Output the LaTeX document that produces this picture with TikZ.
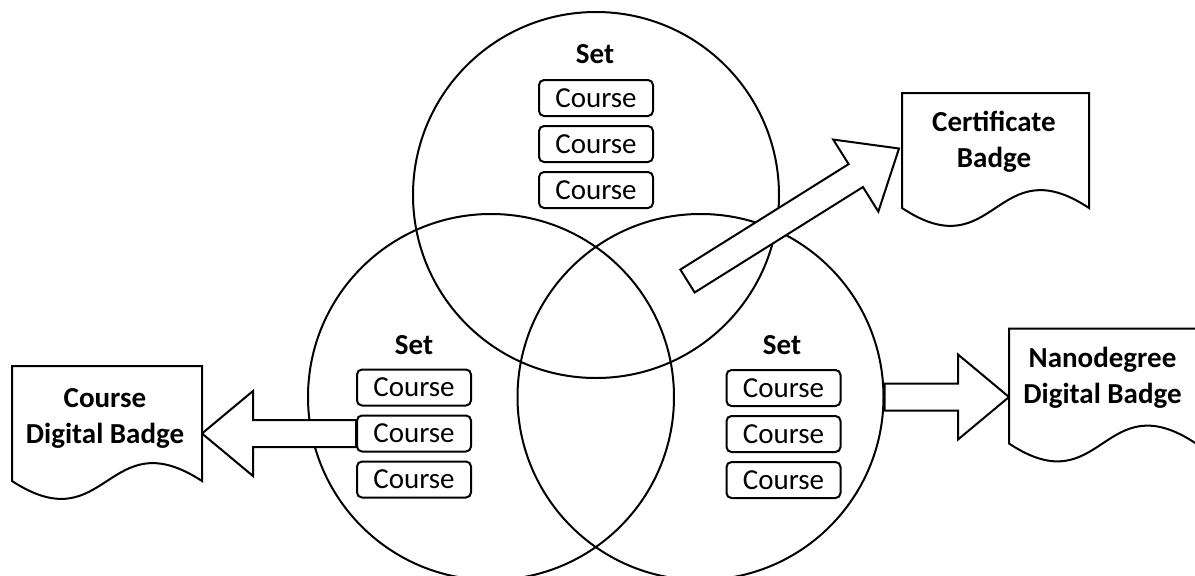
\documentclass[tikz,border=0pt]{standalone}
\usepackage{fontspec}
\setmainfont{Carlito}
\usetikzlibrary{calc}

\tikzset{
  setcircle/.style={circle, draw, line width=2pt, minimum size=366pt, inner sep=0pt},
  setlabel/.style={font=\fontsize{29}{36}\selectfont\bfseries, inner sep=0pt, anchor=base},
  coursebox/.style={draw, fill=white, line width=2pt, rounded corners=5pt,
    minimum width=114pt, minimum height=36pt, inner sep=0pt,
    font=\fontsize{29}{36}\selectfont},
  docframe/.style={minimum height=115pt, inner sep=0pt, outer sep=0pt},
  doctext/.style={align=center, inner sep=0pt, font=\fontsize{29}{36}\selectfont\bfseries},
  docline/.style={draw, fill=white, line width=2pt, line join=miter},
  arrowline/.style={draw, fill=white, line width=2pt, line join=miter},
}

% document outline with a wavy bottom edge around a frame node
\newcommand\docoutline[1]{%
  \path[docline] (#1.south west) -- (#1.north west) -- (#1.north east) -- (#1.south east)
    .. controls ($(#1.south)+(0,-62)$) and ($(#1.south)+(0,62)$) .. (#1.south west) -- cycle;}

% hollow block arrow from tail #1 to tip #2
\newcommand\blockarrow[2]{%
  \coordinate (ba-base) at ($(#2)!51pt!(#1)$);
  \path[arrowline] ($(#1)!13.5pt!90:(#2)$) -- ($(ba-base)!13.5pt!90:(#2)$)
    -- ($(ba-base)!42.5pt!90:(#2)$) -- (#2)
    -- ($(ba-base)!42.5pt!-90:(#2)$) -- ($(ba-base)!13.5pt!-90:(#2)$)
    -- ($(#1)!13.5pt!-90:(#2)$) -- cycle;}

\begin{document}
\begin{tikzpicture}[x=1pt, y=-1pt]
  \useasboundingbox (0,0) rectangle (1195,576);

  % the three overlapping sets
  \node[setcircle] (tc) at (596,195) {};
  \node[setcircle] (lc) at (491,397) {};
  \node[setcircle] (rc) at (700.5,397) {};

  % badge frames
  \node[docframe, minimum width=190pt] (cdoc) at (107,423.5) {};
  \node[docframe, minimum width=187pt] (certdoc) at (995.5,150.5) {};
  \node[docframe, minimum width=187pt] (ndoc) at (1102.5,386) {};

  % arrows towards the badges
  \coordinate (da-tail) at (687.5,281);
  \coordinate (da-tip) at ($(certdoc.west)+(-3,-2)$);
  \blockarrow{da-tail}{da-tip}

  \coordinate (ra-tip) at (ndoc.west |- rc.east);
  \blockarrow{rc.east}{ra-tip}

  % top set
  \node[setlabel] (tset) at (595,63) {Set};
  \node[coursebox] (tc1) at (596,98) {Course};
  \node[coursebox] (tc2) at (596,144) {Course};
  \node[coursebox] (tc3) at (596,190) {Course};

  % left set
  \node[setlabel] (lset) at (414,354) {Set};
  \node[coursebox] (lc1) at (414,387.5) {Course};
  \node[coursebox] (lc2) at (414,433.5) {Course};
  \node[coursebox] (lc3) at (414,479.5) {Course};

  % right set
  \node[setlabel] (rset) at (782,354) {Set};
  \node[coursebox] (rc1) at (783.5,388) {Course};
  \node[coursebox] (rc2) at (783.5,434) {Course};
  \node[coursebox] (rc3) at (783.5,480) {Course};

  \coordinate (la-tip) at (cdoc.east |- lc2.west);
  \blockarrow{lc2.west}{la-tip}

  % badges
  \docoutline{cdoc}
  \docoutline{certdoc}
  \docoutline{ndoc}
  \node[doctext] (cdoctext) at (105,418) {Course\\Digital Badge};
  \node[doctext] (certtext) at (994,142) {Certificate\\Badge};
  \node[doctext] (ntext) at (1102.5,378) {Nanodegree\\Digital Badge};
\end{tikzpicture}
\end{document}
